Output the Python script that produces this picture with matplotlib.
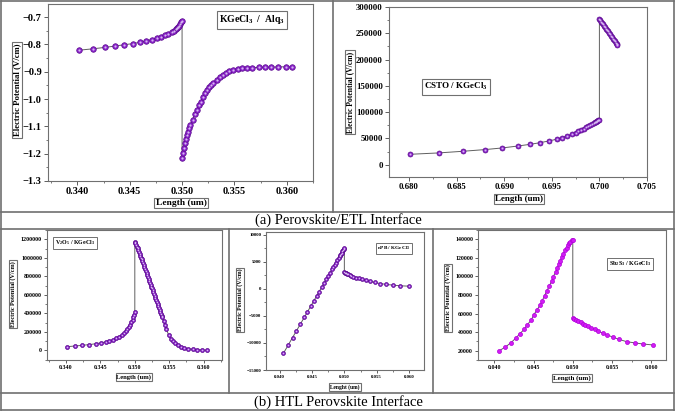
import matplotlib
matplotlib.use("Agg")
import matplotlib.pyplot as plt
from matplotlib.lines import Line2D
from matplotlib.ticker import AutoMinorLocator

plt.rcParams['font.family'] = ['Liberation Serif', 'DejaVu Serif']
plt.rcParams['mathtext.fontset'] = 'custom'
plt.rcParams['mathtext.rm'] = 'Liberation Serif:bold'
plt.rcParams['mathtext.bf'] = 'Liberation Serif:bold'
plt.rcParams['mathtext.default'] = 'rm'

W, H = 685, 412

# ---- data ----
# (a) KGeCl3 / Alq3
alq_x_left = [0.3402, 0.3415, 0.3426, 0.3436, 0.3445, 0.3453, 0.3460, 0.3466, 0.3471, 0.3476, 0.3480,
              0.3484, 0.3487, 0.3490, 0.3492, 0.3494, 0.3495, 0.3496, 0.3497, 0.3498, 0.3499, 0.3500]
alq_y_left = [-0.821, -0.816, -0.811, -0.806, -0.801, -0.797, -0.792, -0.787, -0.782, -0.777, -0.772,
              -0.767, -0.762, -0.756, -0.751, -0.745, -0.741, -0.736, -0.731, -0.725, -0.719, -0.713]
alq_x_right = [0.3500, 0.3501, 0.3502, 0.3503, 0.3504, 0.3505, 0.3506, 0.3507, 0.3508, 0.3510, 0.3512,
               0.3514, 0.3516, 0.3518, 0.3520, 0.3522, 0.3524, 0.3526, 0.3528, 0.3530, 0.3533, 0.3536,
               0.3539, 0.3542, 0.3545, 0.3549, 0.3553, 0.3557, 0.3562, 0.3567, 0.3573, 0.3579, 0.3585,
               0.3592, 0.3599, 0.3605]
alq_y_right = [-1.215, -1.196, -1.178, -1.161, -1.146, -1.132, -1.119, -1.107, -1.096, -1.075, -1.056,
               -1.039, -1.023, -1.009, -0.992, -0.979, -0.967, -0.957, -0.948, -0.940, -0.929, -0.920,
               -0.912, -0.905, -0.899, -0.894, -0.891, -0.888, -0.886, -0.885, -0.884, -0.883, -0.883,
               -0.882, -0.882, -0.882]

# (a) CSTO / KGeCl3
csto_x_left = [0.6801, 0.6831, 0.6857, 0.6880, 0.6898, 0.6914, 0.6927, 0.6938, 0.6947, 0.6955, 0.6961,
               0.6966, 0.6971, 0.6975, 0.6978, 0.6981, 0.6984, 0.6986, 0.6988, 0.6990, 0.6992, 0.6994,
               0.6995, 0.6996, 0.6997, 0.6998, 0.6999, 0.7000]
csto_y_left = [19700, 22300, 25500, 28700, 31800, 35400, 38600, 41900, 45100, 48300, 51500,
               54600, 57700, 60700, 63500, 66200, 68700, 71000, 73200, 75300, 77200, 79000,
               80500, 81800, 83000, 84000, 84800, 85500]
csto_x_right = [0.7000, 0.7001, 0.7002, 0.7003, 0.7004, 0.7005, 0.7006, 0.7007, 0.7008, 0.7009,
                0.7010, 0.7011, 0.7012, 0.7013, 0.7014, 0.7015, 0.7016, 0.7017, 0.7018, 0.7019]
csto_y_right = [277700, 275000, 272300, 269600, 266900, 264200, 261500, 258800, 256100, 253400,
                250700, 248000, 245300, 242600, 239900, 237200, 234500, 231900, 229400, 227000]

# (b) V2O5 / KGeCl3
v2o5_x_left = [0.3402, 0.3413, 0.3424, 0.3434, 0.3443, 0.3451, 0.3458, 0.3463, 0.3469, 0.3473, 0.3477,
               0.3481, 0.3484, 0.3487, 0.3489, 0.3491, 0.3493, 0.3495, 0.3497, 0.3498, 0.3499, 0.3500]
v2o5_y_left = [39600, 46800, 54000, 62000, 71000, 81000, 92000, 103000, 117000, 131000, 148000,
               166000, 185000, 206000, 228000, 252000, 278000, 305000, 333000, 360000, 386000, 411000]
v2o5_x_right = [0.3500, 0.3501, 0.3502, 0.3503, 0.3504, 0.3505, 0.3506, 0.3507, 0.3508, 0.3509, 0.3510,
                0.3511, 0.3512, 0.3513, 0.3514, 0.3515, 0.3516, 0.3517, 0.3518, 0.3519, 0.3520, 0.3521,
                0.3522, 0.3523, 0.3524, 0.3525, 0.3526, 0.3527, 0.3528, 0.3529, 0.3530, 0.3531, 0.3532,
                0.3533, 0.3534, 0.3535, 0.3536, 0.3537, 0.3538, 0.3539, 0.3540, 0.3542, 0.3544, 0.3546,
                0.3549, 0.3552, 0.3555, 0.3559, 0.3563, 0.3567, 0.3571, 0.3577, 0.3584, 0.3591, 0.3598,
                0.3605]
v2o5_y_right = [1175000, 1158000, 1140000, 1121000, 1102000, 1083000, 1063000, 1043000, 1023000,
                1003000, 983000, 962000, 942000, 921000, 900000, 879000, 858000, 837000, 816000,
                795000, 774000, 753000, 732000, 711000, 690000, 669000, 648000, 627000, 606000,
                585000, 564000, 543000, 522000, 501000, 480000, 459000, 438000, 417000, 396000,
                376000, 356000, 314000, 272000, 230000, 165000, 125000, 100000, 75000, 55000, 38000,
                28000, 18000, 11000, 7000, 3500, 1000]

# (b) nPB / KGeCl3
npb_x_left = [0.0406, 0.0413, 0.0420, 0.0426, 0.0432, 0.0438, 0.0443, 0.0448, 0.0453, 0.0457, 0.0461,
              0.0465, 0.0469, 0.0472, 0.0475, 0.0478, 0.0481, 0.0483, 0.0485, 0.0487, 0.0489, 0.0491,
              0.0493, 0.0494, 0.0495, 0.0496, 0.0497, 0.0498, 0.0499, 0.0500]
npb_y_left = [-11900, -10450, -9000, -7770, -6530, -5290, -4260, -3230, -2190, -1370, -540,
              290, 1110, 1730, 2350, 2970, 3590, 4010, 4420, 4830, 5250, 5660,
              6070, 6280, 6490, 6690, 6900, 7110, 7310, 7520]
npb_x_right = [0.0500, 0.0501, 0.0502, 0.0503, 0.0504, 0.0506, 0.0508, 0.0510, 0.0514, 0.0518, 0.0523,
               0.0528, 0.0533, 0.0540, 0.0547, 0.0555, 0.0565, 0.0575, 0.0586, 0.0600]
npb_y_right = [3090, 3000, 2920, 2840, 2770, 2650, 2530, 2420, 2250, 2080, 1910,
               1740, 1560, 1370, 1170, 980, 810, 680, 560, 490]

# (b) Sb2S3 / KGeCl3
sb_x_left = [0.0406, 0.0414, 0.0421, 0.0427, 0.0432, 0.0438, 0.0442, 0.0447, 0.0450, 0.0454, 0.0458,
             0.0461, 0.0464, 0.0467, 0.0470, 0.0473, 0.0475, 0.0478, 0.0480, 0.0482, 0.0484, 0.0486,
             0.0488, 0.0490, 0.0492, 0.0494, 0.0495, 0.0497, 0.0499, 0.0500]
sb_y_left = [20000, 23950, 28620, 33290, 37960, 42990, 48020, 53050, 58440, 63470, 68860,
             73890, 79280, 84670, 89700, 94730, 99760, 104430, 108740, 113050, 116990, 120950,
             124540, 128140, 131000, 134000, 135500, 137500, 139000, 139600]
sb_x_right = [0.0500, 0.0502, 0.0504, 0.0507, 0.0510, 0.0513, 0.0516, 0.0519, 0.0523, 0.0528, 0.0532,
              0.0538, 0.0544, 0.0551, 0.0559, 0.0569, 0.0580, 0.0590, 0.0602]
sb_y_right = [54850, 53770, 52690, 51610, 50540, 49100, 47660, 46230, 44790, 43000, 41200,
              39040, 36890, 34730, 32210, 29700, 28300, 27200, 26200]

purple = '#8B22CC'
purple_edge = '#5A0C8C'
purple_light = '#D7B8F0'
magenta = '#D21CF5'
magenta_edge = '#B000D8'
line_gray = '#5f5f5f'
frame_gray = '#707070'

fig = plt.figure(figsize=(W / 100, H / 100), dpi=100)


def px_axes(x0, y0, x1, y1):
    return fig.add_axes([x0 / W, 1 - y1 / H, (x1 - x0) / W, (y1 - y0) / H])


def ftext(px, py, s, size, rot=0, box=True, weight='bold'):
    kw = {}
    if box:
        kw['bbox'] = dict(boxstyle='square,pad=0.15', fc='white', ec=frame_gray, lw=0.8)
    fig.text(px / W, 1 - py / H, s, fontsize=size, rotation=rot, ha='center', va='center',
             fontweight=weight, **kw)


def panel(ax, xl, yl, xr, yr, face, edge, ms, tick_fs, ticklen, shine=True):
    ax.plot(list(xl) + list(xr), list(yl) + list(yr), color=line_gray, lw=0.7, zorder=1)
    for xs, ys in ((xl, yl), (xr, yr)):
        ax.plot(xs, ys, 'o', ms=ms, mfc=face, mec=edge, mew=0.5, zorder=2)
        if shine:
            # lighter centre so the markers look like little beads
            ax.plot(xs, ys, 'o', ms=ms * 0.4, mfc=purple_light, mec='none', zorder=3)
    for s in ax.spines.values():
        s.set_color(frame_gray)
        s.set_linewidth(0.8)
    ax.xaxis.set_minor_locator(AutoMinorLocator(2))
    ax.yaxis.set_minor_locator(AutoMinorLocator(2))
    ax.tick_params(which='major', direction='out', length=ticklen, width=0.6, color='#444444',
                   labelsize=tick_fs, pad=1.5)
    ax.tick_params(which='minor', direction='out', length=ticklen * 0.6, width=0.5, color='#444444')
    ax.tick_params(top=False, right=False)


# top-left
ax1 = px_axes(48, 4, 313, 181)
panel(ax1, alq_x_left, alq_y_left, alq_x_right, alq_y_right, purple, purple_edge, 4.0, 7.5, 3)
ax1.set_xlim(0.3372, 0.3625)
ax1.set_ylim(-1.3, -0.652)
ax1.set_xticks([0.340, 0.345, 0.350, 0.355, 0.360])
ax1.set_xticklabels(['0.340', '0.345', '0.350', '0.355', '0.360'], fontweight='bold')
ax1.set_yticks([-1.3, -1.2, -1.1, -1.0, -0.9, -0.8, -0.7])
ax1.set_yticklabels(['\u22121.3', '\u22121.2', '\u22121.1', '\u22121.0', '\u22120.9', '\u22120.8', '\u22120.7'],
                    fontweight='bold')
ax1.text(0.77, 0.91, 'KGeCl$_3$  /  Alq$_3$', transform=ax1.transAxes, ha='center', va='center',
         fontsize=7, fontweight='bold',
         bbox=dict(boxstyle='square,pad=0.25', fc='white', ec=frame_gray, lw=0.8))
ftext(17, 90, 'Electric Potential (V/cm)', 6.3, rot=90)
ftext(181, 203, 'Length (um)', 6.8)

# top-right
ax2 = px_axes(389, 7, 647, 177)
panel(ax2, csto_x_left, csto_y_left, csto_x_right, csto_y_right, purple, purple_edge, 3.6, 6.3, 3)
ax2.set_xlim(0.6779, 0.7049)
ax2.set_ylim(-23500, 300000)
ax2.set_xticks([0.680, 0.685, 0.690, 0.695, 0.700, 0.705])
ax2.set_xticklabels(['0.680', '0.685', '0.690', '0.695', '0.700', '0.705'], fontweight='bold')
ax2.set_yticks([0, 50000, 100000, 150000, 200000, 250000, 300000])
ax2.set_yticklabels(['0', '50000', '100000', '150000', '200000', '250000', '300000'], fontweight='bold')
ax2.text(0.26, 0.53, 'CSTO / KGeCl$_3$', transform=ax2.transAxes, ha='center', va='center',
         fontsize=6.5, fontweight='bold',
         bbox=dict(boxstyle='square,pad=0.25', fc='white', ec=frame_gray, lw=0.8))
ftext(350, 92, 'Electric Potential (V/cm)', 5.5, rot=90)
ftext(519, 199, 'Length (um)', 6.5)

# bottom-left
ax3 = px_axes(47, 230, 222, 360)
panel(ax3, v2o5_x_left, v2o5_y_left, v2o5_x_right, v2o5_y_right, purple, purple_edge, 2.9, 4.3, 2)
ax3.set_xlim(0.33725, 0.36266)
ax3.set_ylim(-104500, 1301000)
ax3.set_xticks([0.340, 0.345, 0.350, 0.355, 0.360])
ax3.set_xticklabels(['0.340', '0.345', '0.350', '0.355', '0.360'], fontweight='bold')
ax3.set_yticks([0, 200000, 400000, 600000, 800000, 1000000, 1200000])
ax3.set_yticklabels(['0', '200000', '400000', '600000', '800000', '1000000', '1200000'], fontweight='bold')
ax3.text(0.16, 0.90, 'V$_2$O$_5$ / KGeCl$_3$', transform=ax3.transAxes, ha='center', va='center',
         fontsize=4.3, fontweight='bold',
         bbox=dict(boxstyle='square,pad=0.3', fc='white', ec=frame_gray, lw=0.7))
ftext(13, 294, 'Electric Potential (V/cm)', 4.4, rot=90)
ftext(134, 377, 'Length (um)', 4.7)

# bottom-middle
ax4 = px_axes(266, 232, 424, 370)
panel(ax4, npb_x_left, npb_y_left, npb_x_right, npb_y_right, purple, purple_edge, 2.8, 3.5, 2)
ax4.set_xlim(0.0379, 0.0623)
ax4.set_ylim(-15000, 10500)
ax4.set_xticks([0.040, 0.045, 0.050, 0.055, 0.060])
ax4.set_xticklabels(['0.040', '0.045', '0.050', '0.055', '0.060'], fontweight='bold')
ax4.set_yticks([-15000, -10000, -5000, 0, 5000, 10000])
ax4.set_yticklabels(['\u221215000', '\u221210000', '\u22125000', '0', '5000', '10000'], fontweight='bold')
ax4.text(0.81, 0.88, 'nPB / KGeCl$_3$', transform=ax4.transAxes, ha='center', va='center',
         fontsize=3.8, fontweight='bold',
         bbox=dict(boxstyle='square,pad=0.3', fc='white', ec=frame_gray, lw=0.7))
ftext(240, 300, 'Electric Potential (V/cm)', 4.2, rot=90)
ftext(345, 387, 'Lenght (um)', 4.0)

# bottom-right
ax5 = px_axes(478, 230, 666, 360)
panel(ax5, sb_x_left, sb_y_left, sb_x_right, sb_y_right, magenta, magenta_edge, 2.9, 4.2, 2, shine=False)
ax5.set_xlim(0.0379, 0.0619)
ax5.set_ylim(10000, 150000)
ax5.set_xticks([0.040, 0.045, 0.050, 0.055, 0.060])
ax5.set_xticklabels(['0.040', '0.045', '0.050', '0.055', '0.060'], fontweight='bold')
ax5.set_yticks([20000, 40000, 60000, 80000, 100000, 120000, 140000])
ax5.set_yticklabels(['20000', '40000', '60000', '80000', '100000', '120000', '140000'], fontweight='bold')
ax5.text(0.81, 0.74, 'Sb$_2$S$_3$ / KGeCl$_3$', transform=ax5.transAxes, ha='center', va='center',
         fontsize=4.4, fontweight='bold',
         bbox=dict(boxstyle='square,pad=0.3', fc='white', ec=frame_gray, lw=0.7))
ftext(448, 298, 'Electric Potential (V/cm)', 4.5, rot=90)
ftext(572, 378, 'Length (um)', 5.0)

# captions
ftext(338, 220, '(a) Perovskite/ETL Interface', 10.5, box=False, weight='normal')
ftext(338, 402, '(b) HTL Perovskite Interface', 10.5, box=False, weight='normal')


# outer frame and dividers
def fline(x0, y0, x1, y1, lw=1.2):
    fig.add_artist(Line2D([x0 / W, x1 / W], [1 - y0 / H, 1 - y1 / H], color=frame_gray, lw=lw))


fline(1, 0.5, 674, 0.5)
fline(1, 410, 674, 410)
fline(1, 0.5, 1, 410)
fline(674, 0.5, 674, 410)
fline(1, 212, 674, 212)
fline(1, 229, 674, 229)
fline(1, 393, 674, 393)
fline(333, 0.5, 333, 212)
fline(229, 229, 229, 393)
fline(433, 229, 433, 393)

fig.savefig('out.png', dpi=100)
